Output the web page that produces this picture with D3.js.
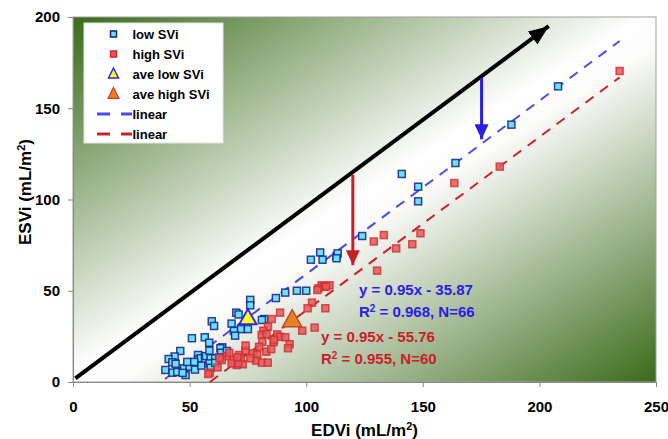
<!DOCTYPE html>
<html>
<head>
<meta charset="utf-8">
<script src="https://cdn.jsdelivr.net/npm/d3@7"></script>
<style>
  body { margin: 0; background: #fff; }
  svg text { font-family: "Liberation Sans", Arial, sans-serif; font-weight: bold; }
</style>
</head>
<body>
<div id="chart"></div>
<script>
// low SVi group (EDVi, ESVi)
const lowEDVi = [208,188,164,141,148,148,124,113,106,102,107,113.5,96,100,91,87,76,76,70,71,
  82,81,68,72,75,69,69.5,64,64,59.5,60.5,51,56.5,58.4,46,43.6,41,42.6,39.6,42.7,
  44.7,48.3,47.6,50,52.3,53.6,53.7,54.8,56.6,57,59,58.6,59,61,63.2,63.5,62.7,58.5,113,44,
  49,55,61,66,52,47];
const lowESVi = [162,141,120,114,107,99,80,69,71,67,67,70.5,50,50,49,46,45,42,38,37,
  34.5,34,32,29,29,28,25.4,19,16.6,33.3,30.7,24,24.5,21.5,17,14,12.6,10.8,6.6,5.1,
  5.5,3.8,7.5,8.4,6.8,14.8,12.4,13,12.4,14.2,13,10.2,7.8,13,18.5,16,13.5,17.2,67.8,10,
  11,9,10.5,17,11,5];
// high SVi group
const highEDVi = [234.4,183,163.5,149,145.5,138.6,133.3,129,130.4,106.6,110,107.6,105.2,104.8,102.5,100.6,108.2,103.6,98.3,88.8,
  85.2,83.6,81.6,80.9,83,87.6,88.8,91,86,86.2,92.9,92.2,81.2,79.8,77.2,79,78.5,81,82.9,83.5,
  73.9,72.8,70.2,71.2,71.9,68.3,65.9,63.8,62.8,62,58.7,58,68,70.9,70.5,108.5,76,74,85,67];
const highESVi = [170.4,118,109,81.5,75.5,73.2,80.5,77,61,53,53,52.2,51.3,50.4,43.5,40.4,40.4,29.8,28.1,38,
  34.5,30.3,28.1,25.8,26.3,26.1,24.8,24.5,21.8,23,20.7,18.5,22,19.3,15.7,14.8,11.7,10.6,16.6,10.6,
  17.2,9.7,9.3,14.8,13,12,14.2,12,13,8,5.1,4.4,10.2,10.2,13.5,52.2,13,20,18,16];
// group averages
const aveLow = [75, 35];
const aveHigh = [94, 34];
// linear fits: slope, intercept, x range
const fitLow = {slope: 0.95, intercept: -35.87, from: 39.5, to: 234.4};
const fitHigh = {slope: 0.95, intercept: -55.76, from: 58.7, to: 234.4};
// arrows [x1, y1, x2, y2] in data units
const identityArrow = [1, 2, 204, 195];
const lowArrow = [175.2, 166.6, 175.2, 133];
const highArrow = [120, 113.5, 120, 64];
const xTicks = [0, 50, 100, 150, 200, 250];
const yTicks = [0, 50, 100, 150, 200];
const legendLabels = ["low SVi", "high SVi", "ave low SVi", "ave high SVi", "linear", "linear"];

const width = 668, height = 439;
const margin = {top: 17, right: 12, bottom: 57, left: 73};

const svg = d3.select("#chart").append("svg")
    .attr("width", width)
    .attr("height", height);

const x = d3.scaleLinear().domain([0, 250]).range([margin.left, width - margin.right]);
const y = d3.scaleLinear().domain([0, 200]).range([height - margin.bottom, margin.top]);

const defs = svg.append("defs");
const grad = defs.append("linearGradient")
    .attr("id", "bg")
    .attr("x1", 0).attr("y1", 0).attr("x2", 1).attr("y2", 1);
grad.append("stop").attr("offset", "0%").attr("stop-color", "#3b6b1b");
grad.append("stop").attr("offset", "49%").attr("stop-color", "#ffffff");
grad.append("stop").attr("offset", "54%").attr("stop-color", "#fbfbfa");
grad.append("stop").attr("offset", "100%").attr("stop-color", "#3b6b1b");

function arrowMarker(id, color, len, wid) {
    defs.append("marker")
        .attr("id", id)
        .attr("markerUnits", "userSpaceOnUse")
        .attr("viewBox", `0 0 ${len} ${wid}`)
        .attr("refX", len).attr("refY", wid / 2)
        .attr("markerWidth", len).attr("markerHeight", wid)
        .attr("orient", "auto")
        .append("path")
        .attr("d", `M0,0L${len},${wid / 2}L0,${wid}Z`)
        .attr("fill", color);
}
arrowMarker("headBlack", "#000", 20, 16);
arrowMarker("headBlue", "#2a1de6", 15, 14);
arrowMarker("headRed", "#c81e28", 15, 14);

// plot area
svg.append("rect")
    .attr("x", x(0)).attr("y", y(200))
    .attr("width", x(250) - x(0)).attr("height", y(0) - y(200))
    .attr("fill", "url(#bg)")
    .attr("stroke", "#a0a0a0")
    .attr("stroke-width", 1);

// axes
const xAxis = svg.append("g")
    .attr("transform", `translate(0,${y(0)})`)
    .call(d3.axisBottom(x).tickValues(xTicks).tickSize(5).tickPadding(14));
const yAxis = svg.append("g")
    .attr("transform", `translate(${x(0)},0)`)
    .call(d3.axisLeft(y).tickValues(yTicks).tickSize(5).tickPadding(8));
[xAxis, yAxis].forEach(g => {
    g.select(".domain").attr("stroke", "#888");
    g.selectAll(".tick line").attr("stroke", "#888");
    g.selectAll(".tick text")
        .attr("fill", "#000")
        .style("font-size", "15px")
        .style("font-family", "Liberation Sans, Arial, sans-serif")
        .style("font-weight", "bold");
});

// axis titles
const xTitle = svg.append("text")
    .attr("x", (x(0) + x(250)) / 2)
    .attr("y", 436)
    .attr("text-anchor", "middle")
    .style("font-size", "17px");
xTitle.append("tspan").text("EDVi (mL/m");
xTitle.append("tspan").attr("baseline-shift", "super").style("font-size", "11px").text("2");
xTitle.append("tspan").text(")");

const yTitle = svg.append("text")
    .attr("transform", "translate(31,192) rotate(-90)")
    .attr("text-anchor", "middle")
    .style("font-size", "17px");
yTitle.append("tspan").text("ESVi (mL/m");
yTitle.append("tspan").attr("baseline-shift", "super").style("font-size", "11px").text("2");
yTitle.append("tspan").text(")");

// trend lines
const line = d3.line().x(d => x(d[0])).y(d => y(d[1]));
[[fitLow, "#4a4af2"], [fitHigh, "#d01f26"]].forEach(([f, c]) => {
    const pts = [f.from, f.to].map(v => [v, f.slope * v + f.intercept]);
    svg.append("path")
        .attr("d", line(pts))
        .attr("fill", "none")
        .attr("stroke", c)
        .attr("stroke-width", 2)
        .attr("stroke-dasharray", "10,8");
});

// identity arrow
svg.append("line")
    .attr("x1", x(identityArrow[0])).attr("y1", y(identityArrow[1]))
    .attr("x2", x(identityArrow[2])).attr("y2", y(identityArrow[3]))
    .attr("stroke", "#000")
    .attr("stroke-width", 4)
    .attr("marker-end", "url(#headBlack)");

// points
const sq = 7;
svg.append("g").selectAll("rect")
    .data(d3.zip(lowEDVi, lowESVi))
    .join("rect")
    .attr("x", d => x(d[0]) - sq / 2)
    .attr("y", d => y(d[1]) - sq / 2)
    .attr("width", sq).attr("height", sq)
    .attr("fill", "#66e4f2")
    .attr("stroke", "#1c1c8a")
    .attr("stroke-opacity", 0.85)
    .attr("stroke-width", 1.5);

svg.append("g").selectAll("rect")
    .data(d3.zip(highEDVi, highESVi))
    .join("rect")
    .attr("x", d => x(d[0]) - sq / 2)
    .attr("y", d => y(d[1]) - sq / 2)
    .attr("width", sq).attr("height", sq)
    .attr("fill", "#e05a5e")
    .attr("fill-opacity", 0.85)
    .attr("stroke", "#d42a30")
    .attr("stroke-opacity", 0.8)
    .attr("stroke-width", 1.5);

function tri(cx, cy, w, h) {
    return `M${cx},${cy - h * 0.6}L${cx + w / 2},${cy + h * 0.4}L${cx - w / 2},${cy + h * 0.4}Z`;
}
svg.append("path")
    .attr("d", tri(x(aveLow[0]), y(aveLow[1]), 17, 15))
    .attr("fill", "#ffff1a")
    .attr("stroke", "#2b2be0")
    .attr("stroke-width", 2);
svg.append("path")
    .attr("d", tri(x(aveHigh[0]), y(aveHigh[1]), 19, 17))
    .attr("fill", "#e28424")
    .attr("stroke", "#d63a2a")
    .attr("stroke-width", 1.5);

// shift arrows
[[lowArrow, "#2a1de6", "headBlue"], [highArrow, "#c81e28", "headRed"]].forEach(([a, c, m]) => {
    svg.append("line")
        .attr("x1", x(a[0])).attr("y1", y(a[1]))
        .attr("x2", x(a[2])).attr("y2", y(a[3]))
        .attr("stroke", c)
        .attr("stroke-width", 3)
        .attr("marker-end", `url(#${m})`);
});

// equations
function eqn(px, py, color, eq, r2) {
    const t1 = svg.append("text").attr("x", px).attr("y", py)
        .attr("fill", color).style("font-size", "15px").text(eq);
    const t2 = svg.append("text").attr("x", px).attr("y", py + 22)
        .attr("fill", color).style("font-size", "15px");
    t2.append("tspan").text("R");
    t2.append("tspan").attr("baseline-shift", "super").style("font-size", "10px").text("2");
    t2.append("tspan").text(r2);
}
eqn(359, 295, "#2a1de6", "y = 0.95x - 35.87", " = 0.968, N=66");
eqn(321, 342, "#c81e28", "y = 0.95x - 55.76", " = 0.955, N=60");

// legend
const lg = svg.append("g").attr("transform", "translate(84,23)");
lg.append("rect")
    .attr("width", 139).attr("height", 120)
    .attr("fill", "#fff")
    .attr("stroke", "#e4e4e4");
const rows = lg.selectAll("g.row")
    .data(legendLabels)
    .join("g")
    .attr("class", "row")
    .attr("transform", (d, i) => `translate(0,${11 + i * 20})`);
rows.append("text")
    .attr("x", 48.5).attr("y", 5)
    .style("font-size", "13px")
    .text(d => d);
rows.each(function (d, i) {
    const g = d3.select(this);
    if (i === 0) {
        g.append("rect").attr("x", 26.5).attr("y", -3).attr("width", 6).attr("height", 6)
            .attr("fill", "#66e4f2").attr("stroke", "#1c1c8a").attr("stroke-width", 1.5);
    } else if (i === 1) {
        g.append("rect").attr("x", 26.5).attr("y", -3).attr("width", 6).attr("height", 6)
            .attr("fill", "#e05a5e").attr("stroke", "#d42a30").attr("stroke-width", 1.5);
    } else if (i === 2) {
        g.append("path").attr("d", tri(29.5, 0, 10, 10))
            .attr("fill", "#ffff1a").attr("stroke", "#2b2be0").attr("stroke-width", 1.5);
    } else if (i === 3) {
        g.append("path").attr("d", tri(29.5, 0, 11, 11))
            .attr("fill", "#e28424").attr("stroke", "#d63a2a").attr("stroke-width", 1.2);
    } else {
        g.append("line").attr("x1", 13).attr("x2", 48).attr("y1", 0).attr("y2", 0)
            .attr("stroke", i === 4 ? "#4a4af2" : "#d01f26")
            .attr("stroke-width", 3)
            .attr("stroke-dasharray", "13,11");
    }
});
</script>
</body>
</html>
